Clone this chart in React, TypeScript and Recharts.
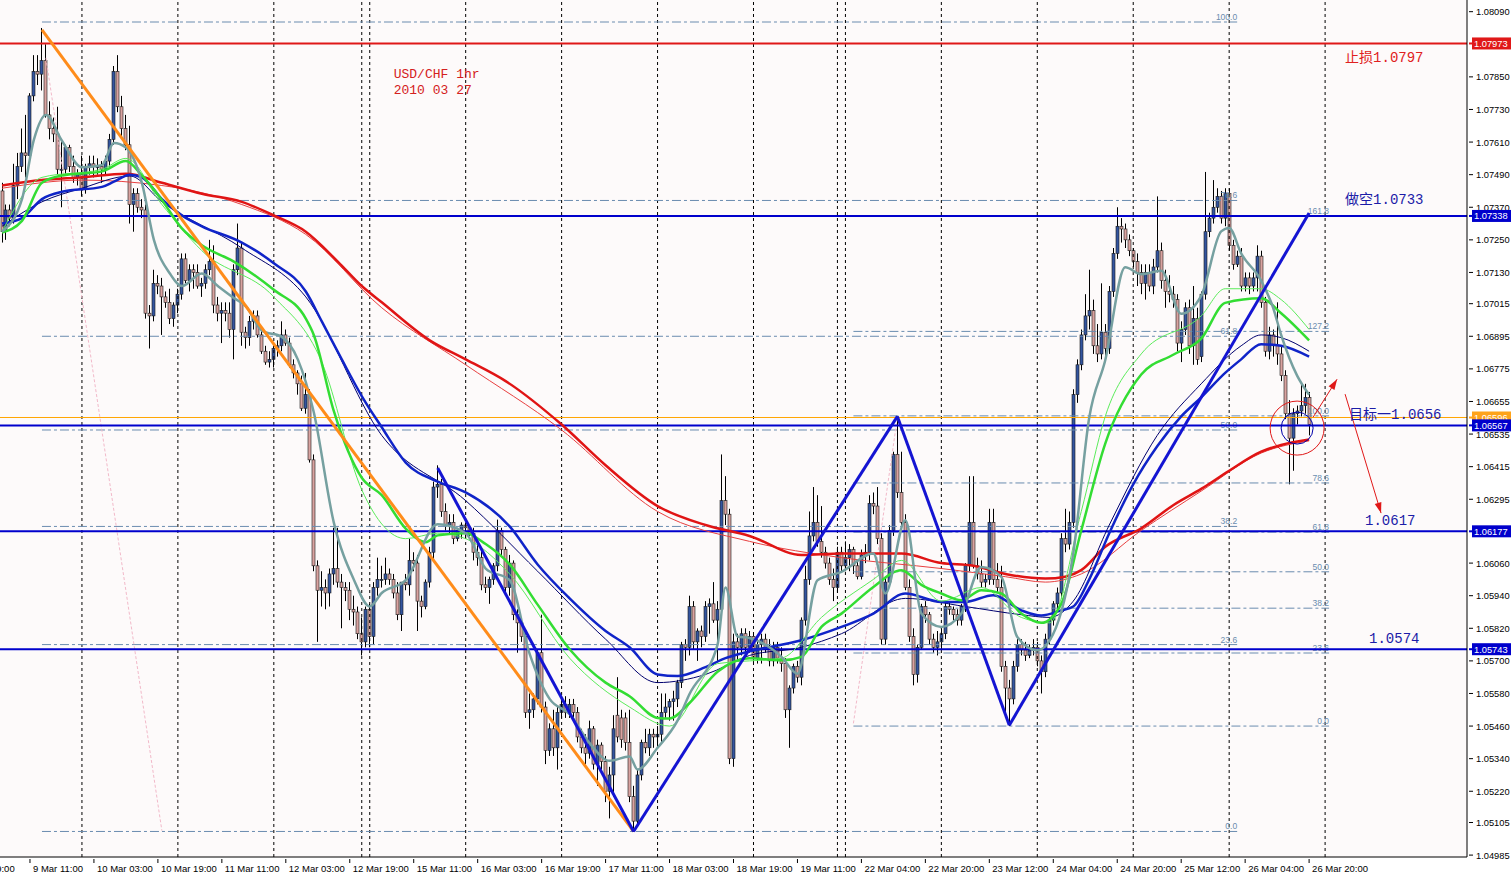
import {
  ComposedChart,
  Bar,
  Line,
  XAxis,
  YAxis,
  CartesianGrid,
  ReferenceLine,
  ReferenceDot,
} from "recharts";

// prices are kept in pips above 1.0000 (730 -> 1.0730)
const px = (v: number) => 1 + v / 10000;

// hourly candles [open, high, low, close], bar 0 = 9 Mar 04:00
const candles: number[][] = [
  [743, 746, 724, 728], [728, 738, 725, 736], [736, 738, 730, 733], [733, 753, 731, 745], [745, 757, 740, 752],
  [752, 766, 750, 757], [757, 771, 748, 756], [756, 779, 755, 778], [778, 793, 776, 787], [787, 793, 782, 786],
  [786, 803, 780, 791], [791, 797, 770, 771], [771, 776, 762, 766], [766, 770, 761, 764], [764, 774, 749, 751],
  [751, 761, 737, 751], [751, 760, 749, 759], [759, 760, 750, 752], [752, 756, 746, 748], [748, 751, 745, 749],
  [749, 756, 741, 744], [744, 753, 742, 752], [752, 756, 749, 753], [753, 756, 748, 752], [752, 755, 749, 752],
  [752, 754, 746, 751], [751, 756, 749, 754], [754, 764, 752, 762], [762, 789, 760, 787], [787, 793, 772, 774],
  [774, 778, 763, 766], [766, 771, 758, 760], [760, 767, 731, 738], [738, 744, 728, 742], [742, 744, 735, 737],
  [737, 740, 733, 736], [736, 738, 696, 698], [698, 701, 685, 697], [697, 714, 695, 709], [709, 712, 705, 708],
  [708, 711, 690, 704], [704, 706, 700, 702], [702, 707, 694, 696], [696, 702, 693, 701], [701, 707, 698, 705],
  [705, 720, 703, 718], [718, 720, 709, 710], [710, 716, 706, 714], [714, 716, 707, 713], [713, 716, 707, 708],
  [708, 711, 704, 709], [709, 716, 707, 714], [714, 725, 712, 717], [717, 723, 698, 701], [701, 704, 695, 698],
  [698, 702, 687, 699], [699, 702, 695, 698], [698, 702, 689, 692], [692, 716, 681, 714], [714, 731, 712, 722],
  [722, 724, 686, 691], [691, 693, 685, 689], [689, 697, 686, 695], [695, 699, 692, 697], [697, 699, 689, 690],
  [690, 692, 683, 684], [684, 686, 679, 680], [680, 684, 678, 681], [681, 686, 678, 685], [685, 688, 682, 686],
  [686, 695, 684, 690], [690, 692, 686, 687], [687, 689, 678, 679], [679, 681, 674, 676], [676, 677, 668, 672],
  [672, 675, 662, 663], [663, 676, 661, 668], [668, 670, 643, 644], [644, 646, 603, 605], [605, 607, 577, 596],
  [596, 603, 590, 597], [597, 600, 589, 595], [595, 604, 590, 602], [602, 619, 598, 604], [604, 619, 597, 599],
  [599, 602, 582, 597], [597, 599, 592, 596], [596, 599, 585, 589], [589, 594, 583, 588], [588, 590, 578, 580],
  [580, 586, 572, 577], [577, 590, 575, 589], [589, 591, 575, 579], [579, 599, 576, 597], [597, 608, 594, 600],
  [600, 605, 597, 600], [600, 608, 598, 602], [602, 604, 598, 600], [600, 602, 593, 595], [595, 599, 585, 587],
  [587, 599, 581, 599], [599, 602, 596, 598], [598, 615, 594, 607], [607, 610, 603, 606], [606, 609, 581, 592],
  [592, 594, 586, 590], [590, 600, 589, 599], [599, 612, 597, 610], [610, 636, 607, 634], [634, 642, 630, 635],
  [635, 637, 623, 625], [625, 628, 618, 620], [620, 624, 617, 621], [621, 624, 613, 615], [615, 619, 614, 618],
  [618, 621, 615, 620], [620, 621, 615, 619], [619, 620, 616, 617], [617, 619, 607, 610], [610, 613, 605, 608],
  [608, 611, 596, 598], [598, 601, 595, 597], [597, 601, 591, 600], [600, 606, 598, 605], [605, 622, 603, 618],
  [618, 619, 609, 611], [611, 612, 595, 597], [597, 609, 594, 606], [606, 607, 585, 587], [587, 589, 573, 584],
  [584, 586, 577, 579], [579, 581, 549, 551], [551, 558, 545, 552], [552, 558, 549, 556], [556, 574, 554, 573],
  [573, 587, 551, 553], [553, 555, 532, 537], [537, 547, 535, 545], [545, 552, 535, 538], [538, 553, 530, 551],
  [551, 556, 549, 554], [554, 557, 549, 551], [551, 556, 549, 554], [554, 556, 548, 551], [551, 553, 540, 542],
  [542, 545, 536, 538], [538, 543, 532, 536], [536, 548, 534, 545], [545, 546, 530, 532], [532, 541, 524, 539],
  [539, 540, 530, 533], [533, 535, 518, 522], [522, 531, 512, 528], [528, 550, 520, 545], [550, 564, 540, 542],
  [549, 552, 538, 541], [549, 551, 537, 540], [540, 552, 518, 520], [520, 524, 507, 511], [511, 530, 509, 528],
  [528, 541, 526, 540], [540, 545, 536, 538], [538, 545, 535, 543], [543, 545, 538, 542], [542, 546, 538, 543],
  [543, 558, 540, 551], [551, 558, 549, 553], [553, 556, 548, 555], [555, 559, 548, 556], [556, 563, 553, 562],
  [562, 577, 560, 576], [576, 578, 570, 575], [575, 594, 572, 590], [590, 592, 574, 577], [577, 582, 570, 581],
  [581, 583, 575, 579], [579, 592, 577, 590], [590, 593, 580, 591], [591, 599, 584, 585], [585, 592, 570, 589],
  [589, 646, 587, 629], [629, 638, 620, 624], [624, 626, 532, 534], [534, 580, 531, 577], [577, 580, 570, 575],
  [575, 582, 572, 580], [580, 582, 573, 575], [575, 581, 573, 579], [579, 580, 569, 571], [571, 578, 569, 576],
  [576, 580, 569, 578], [578, 580, 573, 575], [575, 578, 568, 570], [570, 577, 568, 575], [575, 577, 569, 571],
  [571, 575, 566, 569], [569, 571, 549, 552], [552, 561, 538, 560], [560, 569, 558, 568], [568, 570, 562, 564],
  [564, 586, 561, 585], [585, 605, 583, 600], [600, 625, 598, 616], [616, 634, 614, 621], [621, 631, 612, 614],
  [614, 627, 608, 610], [610, 612, 604, 606], [606, 608, 598, 600], [600, 604, 592, 597], [597, 612, 595, 610],
  [610, 612, 603, 605], [605, 614, 603, 608], [608, 613, 603, 611], [611, 612, 602, 605], [605, 607, 600, 601],
  [601, 611, 600, 609], [609, 613, 606, 610], [610, 631, 607, 628], [628, 632, 624, 627], [627, 634, 613, 615],
  [615, 617, 576, 578], [578, 601, 576, 599], [599, 620, 597, 618], [618, 647, 616, 646], [646, 660, 630, 632],
  [632, 647, 619, 621], [621, 624, 596, 597], [597, 600, 577, 579], [579, 582, 561, 565], [565, 576, 562, 575],
  [575, 591, 574, 590], [590, 592, 584, 587], [587, 588, 576, 578], [578, 580, 573, 575], [575, 581, 572, 577],
  [577, 582, 574, 580], [580, 592, 578, 590], [590, 592, 587, 589], [589, 590, 585, 587], [587, 589, 583, 585],
  [585, 591, 583, 590], [590, 606, 588, 605], [605, 638, 603, 621], [621, 638, 604, 605], [605, 608, 600, 602],
  [602, 607, 597, 599], [599, 602, 597, 600], [600, 626, 598, 621], [621, 626, 598, 600], [600, 606, 595, 597],
  [597, 605, 566, 568], [568, 570, 551, 560], [560, 563, 546, 556], [556, 570, 554, 568], [568, 578, 566, 576],
  [576, 578, 572, 574], [574, 577, 570, 572], [572, 576, 571, 574], [574, 578, 572, 575], [575, 577, 568, 570],
  [570, 572, 558, 566], [566, 580, 564, 578], [578, 586, 576, 585], [585, 592, 583, 591], [591, 597, 589, 595],
  [595, 617, 593, 615], [615, 626, 610, 613], [613, 625, 611, 621], [621, 670, 619, 668], [668, 681, 665, 679],
  [679, 692, 677, 690], [690, 705, 688, 697], [697, 714, 692, 699], [699, 703, 683, 686], [686, 694, 680, 683],
  [683, 709, 681, 691], [691, 694, 681, 685], [685, 708, 683, 706], [706, 722, 704, 720], [720, 737, 718, 730],
  [730, 733, 724, 729], [729, 731, 722, 725], [725, 727, 719, 721], [721, 722, 715, 717], [717, 720, 708, 713],
  [713, 716, 705, 709], [709, 716, 703, 713], [713, 716, 706, 708], [708, 718, 705, 715], [715, 741, 713, 721],
  [721, 724, 707, 710], [710, 714, 700, 706], [706, 712, 702, 705], [705, 708, 700, 703], [703, 705, 684, 687],
  [687, 695, 680, 692], [692, 702, 690, 700], [700, 703, 683, 686], [686, 708, 679, 696], [696, 700, 679, 681],
  [682, 706, 680, 705], [705, 750, 703, 728], [728, 735, 726, 733], [733, 747, 731, 737], [737, 744, 735, 741],
  [741, 743, 731, 733], [733, 744, 730, 742], [742, 744, 721, 723], [723, 725, 714, 716], [716, 721, 715, 719],
  [719, 722, 706, 708], [708, 713, 706, 711], [711, 713, 705, 708], [708, 713, 706, 711], [711, 723, 706, 719],
  [719, 721, 700, 702], [702, 704, 682, 684], [684, 693, 681, 690], [690, 692, 682, 686], [686, 702, 679, 683],
  [683, 686, 673, 675], [675, 677, 659, 661], [661, 666, 635, 652], [652, 663, 640, 661], [661, 664, 657, 662],
  [662, 672, 660, 664], [664, 672, 661, 667], [667, 669, 653, 657],
];

// moving averages: [bar, pips]
const greyMA = [
  [0, 728], [5, 740], [8, 762], [11, 771], [15, 761.5], [20, 751.7], [25, 752.5], [28, 760.7], [31, 759], [35, 746],
  [38, 725], [42, 712.6], [45, 708], [50, 712.6], [54, 708], [58, 703.6], [61, 700.6], [65, 691.6], [70, 689.3],
  [74, 681], [78, 661.5], [83, 621], [88, 600], [92, 590], [95, 595], [101, 599.7], [109, 620.3], [116, 617],
  [121, 604], [127, 599.7], [132, 572.6], [137, 556], [142, 550.4], [147, 539.7], [152, 533.2], [157, 534.8],
  [159, 530], [164, 538], [169, 548], [172, 557.8], [179, 575.9], [181, 597], [184, 579], [187, 578.4], [195, 571.5],
  [199, 565.3], [204, 599.7], [210, 602.8], [218, 609.5], [221, 594.8], [226, 621.8], [230, 587.4], [235, 582.5],
  [240, 587.4], [245, 604.6], [250, 600.9], [254, 578.8], [259, 573.9], [263, 580], [268, 609.6], [272, 659.6],
  [276, 680.7], [281, 714.9], [285, 712.3], [290, 713.6], [295, 697.8], [300, 704.4], [305, 728.1], [307, 729.4],
  [310, 720], [315, 710], [318, 700], [320, 690], [324, 675], [327, 668],
];
const greenMA = [
  [0, 727.7], [5, 732], [10, 746], [15, 748.7], [25, 750.2], [31, 754], [35, 748.7], [40, 739.7], [45, 729.2],
  [50, 723], [58, 717], [68, 706.6], [76, 696], [78, 690], [83, 662], [90, 637.4], [95, 631], [101, 618.7],
  [106, 613.7], [109, 616.2], [116, 617], [121, 613], [127, 605.5], [134, 590.7], [142, 574.3], [151, 562],
  [157, 557], [164, 549], [167, 548.8], [172, 554.5], [179, 566], [187, 571], [195, 570.2], [200, 571.5],
  [205, 582.5], [210, 587.4], [218, 597.2], [225, 603.4], [230, 598], [235, 594.8], [240, 592.3], [245, 596],
  [250, 594.8], [255, 587.4], [260, 584], [265, 591], [270, 618], [276, 650], [285, 675.4], [293, 682.7],
  [300, 688.6], [306, 701.8], [315, 703.5], [320, 698], [327, 688],
];
const greenThinMA = [
  [0, 728], [10, 748], [25, 751], [31, 755], [40, 738], [50, 721], [68, 704], [80, 680], [90, 633], [101, 615],
  [109, 617], [116, 615], [127, 602], [142, 571], [157, 553], [167, 546], [179, 569], [195, 571], [205, 586],
  [218, 600], [225, 607], [235, 592], [245, 597], [255, 586], [262, 584], [270, 625], [276, 660], [285, 683],
  [300, 697], [306, 707], [315, 707], [320, 703], [327, 692],
];
const blueMA = [
  [0, 731], [5, 733], [10, 740], [15, 742.7], [25, 744.5], [28, 746.4], [32, 749], [35, 748], [40, 740], [45, 734],
  [50, 730], [60, 724], [68, 716.4], [76, 706], [80, 695], [85, 681], [90, 667.5], [95, 656], [101, 643], [109, 636],
  [116, 632], [127, 619.5], [134, 605.5], [142, 593], [151, 581], [157, 575], [164, 565], [169, 564.4], [176, 567.7],
  [181, 571], [187, 573.5], [200, 577.6], [210, 582.5], [218, 587.4], [226, 594.8], [235, 591.7], [241, 591.7],
  [248, 594.2], [255, 588.6], [260, 586.7], [265, 588.6], [268, 590], [272, 600], [277, 617], [283, 635],
  [289, 649], [295, 660], [300, 667], [306, 676], [310, 681], [315, 686.6], [320, 686], [327, 682],
];
const blueThinMA = [
  [0, 730], [10, 739], [20, 744], [32, 748.5], [40, 739], [60, 722], [76, 704], [95, 653], [116, 629], [134, 603],
  [151, 578], [164, 562], [176, 565], [187, 572], [200, 575], [210, 580], [226, 593], [241, 590], [255, 587],
  [262, 586], [268, 592], [277, 620], [289, 653], [300, 672], [310, 686], [315, 690], [320, 689], [327, 684],
];
const redMA = [
  [0, 745], [10, 747], [20, 748], [31, 749.3], [40, 746], [50, 742], [60, 739], [68, 734], [76, 728], [84, 717],
  [90, 708], [95, 702], [107, 688], [116, 681], [126, 673], [140, 657], [151, 642], [164, 627], [176, 620],
  [187, 616], [200, 609], [210, 609.5], [225, 609.5], [235, 606], [243, 605], [251, 602], [261, 600.3], [266, 601],
  [270, 603.4], [276, 612], [285, 618.8], [293, 627.3], [300, 633.3], [307, 640], [315, 647], [320, 649.5], [327, 651.5],
];
const redThinMA = [
  [0, 744], [20, 747], [40, 745], [60, 738], [76, 727], [95, 700], [116, 679], [140, 655], [164, 625], [187, 614],
  [210, 608], [235, 604], [251, 601], [261, 599], [270, 602], [285, 618], [300, 632.5], [315, 646.5], [327, 651],
];

const xTicks = [7, 23, 39, 55, 71, 87, 103, 119, 135, 151, 167, 183, 199, 215, 231, 247, 263, 279, 295, 311, 327];
const xLabels = [
  "9 Mar 11:00", "10 Mar 03:00", "10 Mar 19:00", "11 Mar 11:00", "12 Mar 03:00", "12 Mar 19:00", "15 Mar 11:00",
  "16 Mar 03:00", "16 Mar 19:00", "17 Mar 11:00", "18 Mar 03:00", "18 Mar 19:00", "19 Mar 11:00", "22 Mar 04:00",
  "22 Mar 20:00", "23 Mar 12:00", "24 Mar 04:00", "24 Mar 20:00", "25 Mar 12:00", "26 Mar 04:00", "26 Mar 20:00",
];
const daySeparators = [20, 44, 68, 90, 92, 116, 140, 164, 188, 209, 211, 235, 259, 283, 307, 331];

const yTicks = [
  1.0809, 1.0785, 1.0773, 1.0761, 1.0749, 1.0737, 1.0725, 1.0713, 1.07015, 1.06895, 1.06775, 1.06655, 1.06535,
  1.06415, 1.06295, 1.0606, 1.0594, 1.0582, 1.057, 1.0558, 1.0546, 1.0534, 1.0522, 1.05105, 1.04985,
];
const priceLines = [
  { v: 1.07973, color: "#e01818", w: 2 },
  { v: 1.07338, color: "#0000cc", w: 2 },
  { v: 1.06596, color: "#ffa500", w: 1 },
  { v: 1.06567, color: "#0000cc", w: 2 },
  { v: 1.06177, color: "#0000cc", w: 2 },
  { v: 1.05743, color: "#0000cc", w: 2 },
];

const fibLeft = [
  { name: "100.0", v: 805.2 }, { name: "78.6", v: 739.5 }, { name: "61.8", v: 689.5 }, { name: "50.0", v: 655 },
  { name: "38.2", v: 619.5 }, { name: "23.6", v: 576 }, { name: "0.0", v: 507.2 },
];
const fibRight = [
  { name: "161.8", v: 733.8 }, { name: "127.2", v: 691.3 }, { name: "100.0", v: 660.2 }, { name: "78.6", v: 635.5 },
  { name: "61.8", v: 617.4 }, { name: "50.0", v: 602.8 }, { name: "38.2", v: 589.4 }, { name: "23.6", v: 572.9 },
  { name: "0.0", v: 546 },
];

// [bar, pips] vertices
const zigzag = [[109, 641], [158, 507.2], [224, 660], [252, 546.3], [327, 734.9]];
const orangeTrend = [[10, 802.3], [158, 507.2]];
const pinkLines = [[[11, 792], [40, 507.5]], [[213, 547], [224, 659.7]]];
const arrows = [[[328, 659.7], [334, 673.7]], [[336, 668.2], [345, 624.4]]];

const notes = [
  { i: 98, v: 785.7, text: "USD/CHF 1hr", color: "#d42020", size: 13 },
  { i: 98, v: 779.8, text: "2010 03 27", color: "#d42020", size: 13 },
  { i: 336, v: 792, text: "止损1.0797", color: "#e02020", size: 14 },
  { i: 336, v: 739.7, text: "做空1.0733", color: "#1c1ca8", size: 14 },
  { i: 337, v: 660.5, text: "目标一1.0656", color: "#1c1ca8", size: 14 },
  { i: 341, v: 621.4, text: "1.0617", color: "#1c1ca8", size: 14 },
  { i: 342, v: 578, text: "1.0574", color: "#1c1ca8", size: 14 },
];

const TOTAL_BARS = 367;
const rows: any[] = [];
for (let i = 0; i < TOTAL_BARS; i++) {
  const row: any = { i };
  const c = candles[i];
  if (c) {
    row.o = px(c[0]);
    row.h = px(c[1]);
    row.l = px(c[2]);
    row.c = px(c[3]);
    row.range = [row.l, row.h];
  }
  rows.push(row);
}
const addSeries = (key: string, pts: number[][]) => pts.forEach(([i, v]) => (rows[i][key] = px(v)));
addSeries("grey", greyMA);
addSeries("green", greenMA);
addSeries("greenT", greenThinMA);
addSeries("blue", blueMA);
addSeries("blueT", blueThinMA);
addSeries("red", redMA);
addSeries("redT", redThinMA);

const highlight: Record<string, string> = {
  "1.07973": "#e01818",
  "1.07338": "#0000cc",
  "1.06596": "#ffa31a",
  "1.06567": "#0000cc",
  "1.06177": "#0000cc",
  "1.05743": "#0000cc",
};

const AXIS_FONT = "'Liberation Sans', Arial, sans-serif";
const NOTE_FONT = "'Liberation Mono', 'Noto Sans CJK SC', monospace";

const Candle = (props: any) => {
  const { x, y, width, height, payload } = props;
  if (!payload || payload.o == null) return null;
  const { o, h, l, c } = payload;
  const k = h - l > 0 ? height / (h - l) : 0;
  const yO = y + (h - o) * k;
  const yC = y + (h - c) * k;
  const cx = Math.round(x + width / 2) + 0.5;
  const top = Math.min(yO, yC);
  const bh = Math.max(1, Math.abs(yO - yC));
  const up = c >= o;
  return (
    <g>
      <line x1={cx} x2={cx} y1={y} y2={y + height} stroke="#000" strokeWidth={1} />
      <rect x={cx - 1.5} y={top} width={3} height={bh} fill={up ? "#34559f" : "#d9a3a0"} stroke="#1a1a1a" strokeWidth={0.6} />
    </g>
  );
};

const YTick = (props: any) => {
  const { x, y, payload } = props;
  const label = Number(payload.value).toFixed(5);
  const bg = highlight[label];
  if (bg) {
    return (
      <g>
        <line x1={x} x2={x + 3} y1={y} y2={y} stroke={bg} strokeWidth={2} />
        <rect x={x + 3} y={y - 6} width={41} height={12} fill={bg} />
        <text x={x + 5} y={y + 3.5} fontSize={9.3} fontFamily={AXIS_FONT} fill="#fff">{label}</text>
      </g>
    );
  }
  return (
    <g>
      <line x1={x} x2={x + 4} y1={y} y2={y} stroke="#000" />
      <text x={x + 7} y={y + 3.5} fontSize={9.3} fontFamily={AXIS_FONT} fill="#000">{label}</text>
    </g>
  );
};

const XTick = (props: any) => {
  const { x, y, payload } = props;
  const idx = xTicks.indexOf(payload.value);
  return (
    <g>
      <line x1={x} x2={x} y1={y} y2={y + 4} stroke="#000" />
      <text x={x + 3} y={y + 13} fontSize={9.5} fontFamily={AXIS_FONT} fill="#000">{xLabels[idx]}</text>
      {idx === 0 && (
        <text x={x - 66} y={y + 13} fontSize={9.5} fontFamily={AXIS_FONT} fill="#000">8 Mar 19:00</text>
      )}
    </g>
  );
};

const fibLabel = (name: string) => (p: any) => {
  const vb = p.viewBox || {};
  return (
    <text x={vb.x + vb.width} y={vb.y - 2} textAnchor="end" fontSize={8.5} fontFamily={AXIS_FONT} fill="#6a8caf">
      {name}
    </text>
  );
};

const noteLabel = (text: string, color: string, size: number) => (p: any) => {
  const vb = p.viewBox || {};
  return (
    <text x={vb.x + 1} y={vb.y + 1} dominantBaseline="central" fontSize={size} fontFamily={NOTE_FONT} fill={color}>
      {text}
    </text>
  );
};

const Arrow = (props: any) => {
  const { x1, y1, x2, y2 } = props;
  const a = Math.atan2(y2 - y1, x2 - x1);
  const L = 11;
  const s = 0.32;
  const p1 = `${x2},${y2}`;
  const p2 = `${x2 - L * Math.cos(a - s)},${y2 - L * Math.sin(a - s)}`;
  const p3 = `${x2 - L * Math.cos(a + s)},${y2 - L * Math.sin(a + s)}`;
  return (
    <g>
      <line x1={x1} y1={y1} x2={x2} y2={y2} stroke="#e01818" strokeWidth={1} />
      <polygon points={`${p1} ${p2} ${p3}`} fill="#e01818" />
    </g>
  );
};

export default function App() {
  return (
    <div style={{ position: "absolute", left: 0, top: 0, width: 1511, height: 876, background: "#ffffff" }}>
      <ComposedChart width={1511} height={876} data={rows} margin={{ top: 0, right: 0, bottom: 0, left: 0 }}>
        <CartesianGrid horizontal={false} vertical={false} fill="#fdfafa" />
        <XAxis
          dataKey="i"
          type="category"
          height={19}
          ticks={xTicks}
          interval={0}
          tick={<XTick />}
          tickLine={false}
          tickSize={0}
          axisLine={{ stroke: "#000" }}
        />
        <YAxis
          yAxisId={0}
          orientation="right"
          type="number"
          width={44}
          domain={[1.04978, 1.08133]}
          allowDataOverflow
          ticks={[...yTicks, ...priceLines.map((p) => p.v)]}
          interval={0}
          tick={<YTick />}
          tickLine={false}
          tickSize={0}
          axisLine={{ stroke: "#000" }}
        />

        {daySeparators.map((d) => (
          <ReferenceLine key={`d${d}`} x={d} stroke="#000" strokeDasharray="3 3" strokeWidth={1} />
        ))}

        {fibLeft.map((f) => (
          <ReferenceLine
            key={`fl${f.name}`}
            segment={[{ x: 10, y: px(f.v) }, { x: 309, y: px(f.v) }]}
            stroke="#6a8caf"
            strokeDasharray="9 3 3 3"
            label={fibLabel(f.name)}
          />
        ))}
        {fibRight.map((f) => (
          <ReferenceLine
            key={`fr${f.name}`}
            segment={[{ x: 213, y: px(f.v) }, { x: 332, y: px(f.v) }]}
            stroke="#6a8caf"
            strokeDasharray="9 3 3 3"
            label={fibLabel(f.name)}
          />
        ))}
        {pinkLines.map((s, k) => (
          <ReferenceLine
            key={`pk${k}`}
            segment={[{ x: s[0][0], y: px(s[0][1]) }, { x: s[1][0], y: px(s[1][1]) }]}
            stroke="#f2b9c9"
            strokeDasharray="3 2"
          />
        ))}

        {priceLines.map((p) => (
          <ReferenceLine key={`p${p.v}`} y={p.v} stroke={p.color} strokeWidth={p.w} />
        ))}

        <Bar dataKey="range" barSize={3} shape={<Candle />} isAnimationActive={false} />

        <Line dataKey="redT" type="monotone" stroke="#e84040" strokeWidth={1} dot={false} activeDot={false} connectNulls isAnimationActive={false} />
        <Line dataKey="red" type="monotone" stroke="#e01414" strokeWidth={2.5} dot={false} activeDot={false} connectNulls isAnimationActive={false} />
        <Line dataKey="blueT" type="monotone" stroke="#00006e" strokeWidth={1} dot={false} activeDot={false} connectNulls isAnimationActive={false} />
        <Line dataKey="blue" type="monotone" stroke="#1024c8" strokeWidth={2.5} dot={false} activeDot={false} connectNulls isAnimationActive={false} />
        <Line dataKey="greenT" type="monotone" stroke="#5cec5c" strokeWidth={1} dot={false} activeDot={false} connectNulls isAnimationActive={false} />
        <Line dataKey="green" type="monotone" stroke="#33dd33" strokeWidth={2.5} dot={false} activeDot={false} connectNulls isAnimationActive={false} />
        <Line dataKey="grey" type="monotone" stroke="#76a0a0" strokeWidth={2.5} dot={false} activeDot={false} connectNulls isAnimationActive={false} />

        <ReferenceLine
          segment={[{ x: orangeTrend[0][0], y: px(orangeTrend[0][1]) }, { x: orangeTrend[1][0], y: px(orangeTrend[1][1]) }]}
          stroke="#ff8c1a"
          strokeWidth={3}
        />
        {zigzag.slice(1).map((pt, k) => (
          <ReferenceLine
            key={`z${k}`}
            segment={[{ x: zigzag[k][0], y: px(zigzag[k][1]) }, { x: pt[0], y: px(pt[1]) }]}
            stroke="#1414d2"
            strokeWidth={3}
          />
        ))}

        <ReferenceDot x={324} y={px(655.7)} r={27} fill="none" stroke="#e01818" strokeWidth={1} />
        <ReferenceDot x={324} y={px(655.7)} r={16} fill="none" stroke="#0000aa" strokeWidth={1} />

        {arrows.map((a, k) => (
          <ReferenceLine
            key={`a${k}`}
            segment={[{ x: a[0][0], y: px(a[0][1]) }, { x: a[1][0], y: px(a[1][1]) }]}
            shape={(p: any) => <Arrow {...p} />}
          />
        ))}

        {notes.map((n, k) => (
          <ReferenceDot
            key={`n${k}`}
            x={n.i}
            y={px(n.v)}
            r={1}
            fill="none"
            stroke="none"
            label={noteLabel(n.text, n.color, n.size)}
          />
        ))}
      </ComposedChart>
    </div>
  );
}
